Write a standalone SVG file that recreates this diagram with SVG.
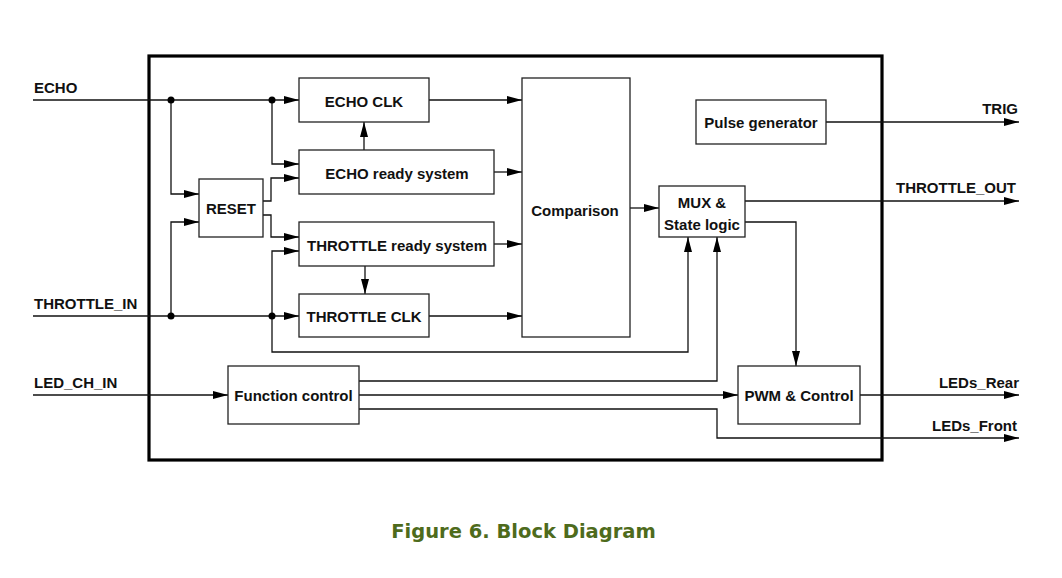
<svg xmlns="http://www.w3.org/2000/svg" width="1062" height="578" viewBox="0 0 1062 578">
<style>
.box{fill:#fff;stroke:#222;stroke-width:1.3}
.frame{fill:none;stroke:#000;stroke-width:3.2}
.w{fill:none;stroke:#111;stroke-width:1.3}
.t{font-family:"Liberation Sans",Arial,sans-serif;font-weight:bold;font-size:15px;fill:#111}
.c{text-anchor:middle}
.r{text-anchor:end}
.cap{font-family:"DejaVu Sans",Verdana,sans-serif;font-weight:bold;font-size:19.5px;fill:#4e6b1c;text-anchor:middle}
</style>
<defs>
<marker id="ar" markerUnits="userSpaceOnUse" markerWidth="15" markerHeight="8" refX="15" refY="4" orient="auto">
<path d="M0,0 L15,4 L0,8 z" fill="#000"/>
</marker>
</defs>
<rect width="1062" height="578" fill="#fff"/>
<rect id="frame" class="frame" x="149" y="56" width="733" height="404"/>
<g id="connectors">
<path class="w" d="M33,100 H299" marker-end="url(#ar)"/>
<path class="w" d="M171,100 V194 H199" marker-end="url(#ar)"/>
<path class="w" d="M33,316 H299" marker-end="url(#ar)"/>
<path class="w" d="M171,316 V222 H199" marker-end="url(#ar)"/>
<path class="w" d="M272,100 V164 H299" marker-end="url(#ar)"/>
<path class="w" d="M263,201 H271 V178 H299" marker-end="url(#ar)"/>
<path class="w" d="M263,215 H271 V237 H299" marker-end="url(#ar)"/>
<path class="w" d="M272,316 V251 H299" marker-end="url(#ar)"/>
<path class="w" d="M272,316 V352 H688 V237" marker-end="url(#ar)"/>
<path class="w" d="M364,150 V122" marker-end="url(#ar)"/>
<path class="w" d="M365,266 V294" marker-end="url(#ar)"/>
<path class="w" d="M429,100 H522" marker-end="url(#ar)"/>
<path class="w" d="M494,172 H522" marker-end="url(#ar)"/>
<path class="w" d="M494,244 H522" marker-end="url(#ar)"/>
<path class="w" d="M429,316 H522" marker-end="url(#ar)"/>
<path class="w" d="M630,208 H659" marker-end="url(#ar)"/>
<path class="w" d="M745,201 H1019" marker-end="url(#ar)"/>
<path class="w" d="M745,222 H796 V366" marker-end="url(#ar)"/>
<path class="w" d="M826,122 H1019" marker-end="url(#ar)"/>
<path class="w" d="M33,395 H228" marker-end="url(#ar)"/>
<path class="w" d="M359,381 H717 V237" marker-end="url(#ar)"/>
<path class="w" d="M359,395 H738" marker-end="url(#ar)"/>
<path class="w" d="M359,409 H717 V438 H1019" marker-end="url(#ar)"/>
<path class="w" d="M860,395 H1019" marker-end="url(#ar)"/>
<circle cx="171" cy="100" r="3.5" fill="#000"/>
<circle cx="272" cy="100" r="3.5" fill="#000"/>
<circle cx="171" cy="316" r="3.5" fill="#000"/>
<circle cx="272" cy="316" r="3.5" fill="#000"/>
</g>
<g id="labels">
<text class="t" x="34" y="93">ECHO</text>
<text class="t" x="34" y="309">THROTTLE_IN</text>
<text class="t" x="34" y="388">LED_CH_IN</text>
<text class="t r" x="1018" y="113.5">TRIG</text>
<text class="t r" x="1016" y="192.5">THROTTLE_OUT</text>
<text class="t r" x="1019" y="387.5">LEDs_Rear</text>
<text class="t r" x="1017" y="430.5">LEDs_Front</text>
</g>
<g id="echo-clk"><rect class="box" x="299" y="78" width="130" height="44"/><text class="t c" x="364" y="106.5">ECHO CLK</text></g>
<g id="echo-ready"><rect class="box" x="299" y="150" width="195" height="44"/><text class="t c" x="397" y="178.5">ECHO ready system</text></g>
<g id="reset"><rect class="box" x="199" y="179" width="64" height="58"/><text class="t c" x="231" y="214">RESET</text></g>
<g id="throttle-ready"><rect class="box" x="299" y="222" width="195" height="44"/><text class="t c" x="397" y="250.5">THROTTLE ready system</text></g>
<g id="throttle-clk"><rect class="box" x="299" y="294" width="130" height="43"/><text class="t c" x="364" y="322">THROTTLE CLK</text></g>
<g id="comparison"><rect class="box" x="522" y="78" width="108" height="259"/><text class="t c" x="575" y="216">Comparison</text></g>
<g id="pulse"><rect class="box" x="696" y="100" width="130" height="44"/><text class="t c" x="761" y="128">Pulse generator</text></g>
<g id="mux"><rect class="box" x="659" y="186" width="86" height="51"/><text class="t c" x="702" y="208">MUX &amp;</text><text class="t c" x="702" y="230">State logic</text></g>
<g id="function"><rect class="box" x="228" y="366" width="131" height="58"/><text class="t c" x="293.5" y="401">Function control</text></g>
<g id="pwm"><rect class="box" x="738" y="366" width="122" height="58"/><text class="t c" x="799" y="401">PWM &amp; Control</text></g>
<text class="cap" x="523.5" y="538">Figure 6. Block Diagram</text>
</svg>
